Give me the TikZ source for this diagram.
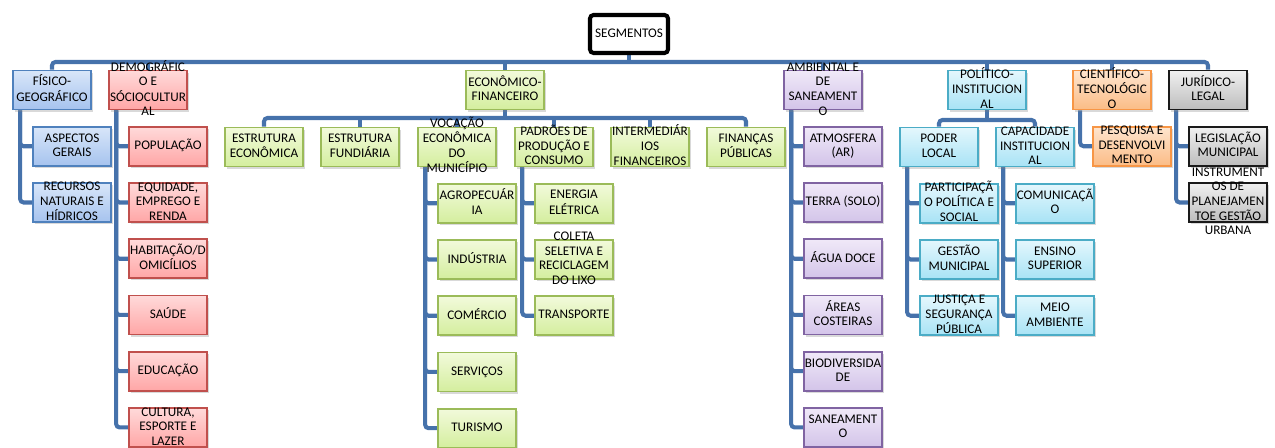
\documentclass[tikz,border=0pt]{standalone}
\usepackage{fontspec}
\setmainfont{Carlito}
\usetikzlibrary{positioning,calc,backgrounds,shadows}

\definecolor{linkblue}{HTML}{4672AB}
\definecolor{blueline}{HTML}{4F81BD}\definecolor{bluetop}{HTML}{D8E6F9}\definecolor{bluebot}{HTML}{A6C3EE}
\definecolor{redline}{HTML}{C0504D}\definecolor{redtop}{HTML}{FFDADA}\definecolor{redbot}{HTML}{FFA6A6}
\definecolor{greenline}{HTML}{9BBB59}\definecolor{greentop}{HTML}{F2FADB}\definecolor{greenbot}{HTML}{D4EE9E}
\definecolor{purpleline}{HTML}{8064A2}\definecolor{purpletop}{HTML}{F0E9F8}\definecolor{purplebot}{HTML}{D3C4E9}
\definecolor{cyanline}{HTML}{4BACC6}\definecolor{cyantop}{HTML}{E4F7FD}\definecolor{cyanbot}{HTML}{A8E3F5}
\definecolor{orangeline}{HTML}{F79646}\definecolor{orangetop}{HTML}{FEE5CE}\definecolor{orangebot}{HTML}{FBBC86}
\definecolor{grayline}{HTML}{1A1A1A}\definecolor{graytop}{HTML}{F0F0F0}\definecolor{graybot}{HTML}{BDBDBD}

\newcommand{\segtext}[1]{\smash{\raisebox{-.25em}{\begin{tabular}{@{}c@{}}#1\end{tabular}}}}

\tikzset{
    seg-box/.style = {draw=#1line, top color=#1top, bottom color=#1bot, line width=1pt, rectangle, minimum width=1.56cm, minimum height=0.78cm, inner sep=0pt, font=\fontsize{7.5}{8.3}\selectfont, drop shadow={shadow xshift=1.2pt, shadow yshift=-1.2pt, opacity=.3}},
    root-box/.style = {draw=black, fill=white, line width=2.3pt, rounded corners=2pt, minimum width=1.56cm, minimum height=0.76cm, inner sep=0pt, font=\fontsize{7.5}{8.3}\selectfont},
    tree-line/.style = {draw=linkblue, line width=2.3pt, rounded corners=2pt},
}

\begin{document}
\begin{tikzpicture}[x=0.02cm, y=-0.02cm, node distance=0.31cm]
\useasboundingbox (0,0) rectangle (1275,448);

\node[root-box] (seg) at (629,34) {\segtext{SEGMENTOS}};

% first level
\node[seg-box=blue] (fis) at (52,90) {\segtext{FÍSICO-\\GEOGRÁFICO}};
\node[seg-box=red] (dem) at (148,90) {\segtext{DEMOGRÁFIC\\O E\\SÓCIOCULTUR\\AL}};
\node[seg-box=green] (eco) at (505,90) {\segtext{ECONÔMICO-\\FINANCEIRO}};
\node[seg-box=purple] (amb) at (823,90) {\segtext{AMBIENTAL E\\DE\\SANEAMENT\\O}};
\node[seg-box=cyan] (pol) at (987,90) {\segtext{POLÍTICO-\\INSTITUCION\\AL}};
\node[seg-box=orange] (cie) at (1112,90) {\segtext{CIENTÍFICO-\\TECNOLÓGIC\\O}};
\node[seg-box=gray] (jur) at (1208,90) {\segtext{JURÍDICO-\\LEGAL}};

% fisico-geografico
\node[seg-box=blue, below=of fis, xshift=0.4cm] (asp) {\segtext{ASPECTOS\\GERAIS}};
\node[seg-box=blue, below=of asp] (rec) {\segtext{RECURSOS\\NATURAIS E\\HÍDRICOS}};

% demografico
\node[seg-box=red, below=of dem, xshift=0.4cm] (pop) {\segtext{POPULAÇÃO}};
\node[seg-box=red, below=of pop] (equ) {\segtext{EQUIDADE,\\EMPREGO E\\RENDA}};
\node[seg-box=red, below=of equ] (hab) {\segtext{HABITAÇÃO/D\\OMICÍLIOS}};
\node[seg-box=red, below=of hab] (sau) {\segtext{SAÚDE}};
\node[seg-box=red, below=of sau] (edu) {\segtext{EDUCAÇÃO}};
\node[seg-box=red, below=of edu] (cul) {\segtext{CULTURA,\\ESPORTE E\\LAZER}};

% economico
\node[seg-box=green] (ee) at (264,147) {\segtext{ESTRUTURA\\ECONÔMICA}};
\node[seg-box=green] (ef) at (360,147) {\segtext{ESTRUTURA\\FUNDIÁRIA}};
\node[seg-box=green] (voc) at (457,147) {\segtext{VOCAÇÃO\\ECONÔMICA\\DO\\MUNICÍPIO}};
\node[seg-box=green] (pad) at (554,147) {\segtext{PADRÕES DE\\PRODUÇÃO E\\CONSUMO}};
\node[seg-box=green] (inf) at (650,147) {\segtext{INTERMEDIÁR\\IOS\\FINANCEIROS}};
\node[seg-box=green] (fp) at (746,147) {\segtext{FINANÇAS\\PÚBLICAS}};

\node[seg-box=green, below=of voc, xshift=0.4cm] (agr) {\segtext{AGROPECUÁR\\IA}};
\node[seg-box=green, below=of agr] (ind) {\segtext{INDÚSTRIA}};
\node[seg-box=green, below=of ind] (com) {\segtext{COMÉRCIO}};
\node[seg-box=green, below=of com] (ser) {\segtext{SERVIÇOS}};
\node[seg-box=green, below=of ser] (tur) {\segtext{TURISMO}};

\node[seg-box=green, below=of pad, xshift=0.4cm] (ene) {\segtext{ENERGIA\\ELÉTRICA}};
\node[seg-box=green, below=of ene] (col) {\segtext{COLETA\\SELETIVA E\\RECICLAGEM\\DO LIXO}};
\node[seg-box=green, below=of col] (tra) {\segtext{TRANSPORTE}};

% ambiental
\node[seg-box=purple, below=of amb, xshift=0.4cm] (atm) {\segtext{ATMOSFERA\\(AR)}};
\node[seg-box=purple, below=of atm] (ter) {\segtext{TERRA (SOLO)}};
\node[seg-box=purple, below=of ter] (agu) {\segtext{ÁGUA DOCE}};
\node[seg-box=purple, below=of agu] (are) {\segtext{ÁREAS\\COSTEIRAS}};
\node[seg-box=purple, below=of are] (bio) {\segtext{BIODIVERSIDA\\DE}};
\node[seg-box=purple, below=of bio] (san) {\segtext{SANEAMENT\\O}};

% politico
\node[seg-box=cyan] (pod) at (939,147) {\segtext{PODER\\LOCAL}};
\node[seg-box=cyan] (cap) at (1035,147) {\segtext{CAPACIDADE\\INSTITUCION\\AL}};
\node[seg-box=cyan, below=of pod, xshift=0.4cm] (par) {\segtext{PARTICIPAÇÃ\\O POLÍTICA E\\SOCIAL}};
\node[seg-box=cyan, below=of par] (ges) {\segtext{GESTÃO\\MUNICIPAL}};
\node[seg-box=cyan, below=of ges] (jus) {\segtext{JUSTIÇA E\\SEGURANÇA\\PÚBLICA}};
\node[seg-box=cyan, below=of cap, xshift=0.4cm] (cmn) {\segtext{COMUNICAÇÃ\\O}};
\node[seg-box=cyan, below=of cmn] (ens) {\segtext{ENSINO\\SUPERIOR}};
\node[seg-box=cyan, below=of ens] (mei) {\segtext{MEIO\\AMBIENTE}};

% cientifico e juridico
\node[seg-box=orange, below=of cie, xshift=0.4cm] (pes) {\segtext{PESQUISA E\\DESENVOLVI\\MENTO}};
\node[seg-box=gray, below=of jur, xshift=0.4cm] (leg) {\segtext{LEGISLAÇÃO\\MUNICIPAL}};
\node[seg-box=gray, below=of leg] (ins) {\segtext{INSTRUMENT\\OS DE\\PLANEJAMEN\\TOE GESTÃO\\URBANA}};

\coordinate (bar) at (0,62);
\coordinate (ebar) at (0,118);
\coordinate (pbar) at (0,120);

\begin{scope}[on background layer]
\draw[tree-line] (fis.north) -- (fis.north|-bar) -- (jur.north|-bar) -- (jur.north);
\foreach \n in {seg.south,dem.north,eco.north,amb.north,pol.north,cie.north}
    \draw[tree-line] (\n) -- (\n|-bar);
\draw[tree-line] (ee.north) -- (ee.north|-ebar) -- (fp.north|-ebar) -- (fp.north);
\foreach \n in {eco.south,ef.north,voc.north,pad.north,inf.north}
    \draw[tree-line] (\n) -- (\n|-ebar);
\draw[tree-line] (pod.north) -- (pod.north|-pbar) -- (cap.north|-pbar) -- (cap.north);
\draw[tree-line] (pol.south) -- (pol.south|-pbar);
% side columns
\foreach \p/\cs in {fis/{asp,rec}, dem/{pop,equ,hab,sau,edu,cul}, voc/{agr,ind,com,ser,tur}, pad/{ene,col,tra}, amb/{atm,ter,agu,are,bio,san}, pod/{par,ges,jus}, cap/{cmn,ens,mei}, cie/{pes}, jur/{leg,ins}}
    \foreach \c in \cs
        \draw[tree-line] ($(\p.south west)+(8,0)$) |- (\c.west);
\end{scope}
\end{tikzpicture}
\end{document}
